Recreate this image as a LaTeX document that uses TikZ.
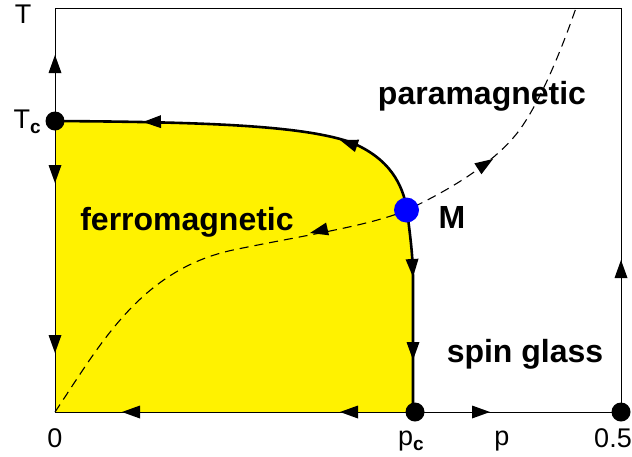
\documentclass[tikz,border=0pt]{standalone}
\usepackage{fontspec}
\setmainfont{Liberation Sans}
\begin{document}
\begin{tikzpicture}[x=1pt,y=-1pt,
  dot/.style={circle,fill=black,inner sep=0pt,minimum size=19pt},
  mdot/.style={circle,fill=blue,inner sep=0pt,minimum size=25pt},
  lab/.style={font=\fontsize{27}{30}\selectfont,inner sep=0pt,anchor=base},
  blab/.style={font=\bfseries\fontsize{32}{35}\selectfont,inner sep=0pt,anchor=base},
  flow/.style={line width=2.6pt,line join=round},
  frame/.style={line width=1pt},
  sepline/.style={line width=1.1pt,dash pattern=on 9pt off 6pt},
  arr/.pic={\fill[black] (0,0) -- (-18,6.5) -- (-18,-6.5) -- cycle;}
]
\useasboundingbox (0,0) rectangle (632,456);
% key points
\coordinate (O) at (55,412);
\coordinate (Ttop) at (55,8);
\coordinate (Rtop) at (621,8);
\coordinate (Top) at (577,5);
% ferromagnetic region
\fill[yellow] (55,121) .. controls (200,122) and (300,125) .. (350,142)
  .. controls (390,158) and (403,185) .. (407,210)
  .. controls (410,235) and (413,255) .. (413,280) -- (413,412) -- (O) -- cycle;
% frame
\draw[frame] (O) -- (Ttop) -- (Rtop) -- (621,412) -- cycle;
% phase boundary
\draw[flow] (55,121) .. controls (200,122) and (300,125) .. (350,142)
  .. controls (390,158) and (403,185) .. (407,210)
  .. controls (410,235) and (413,255) .. (413,280) -- (413,412);
% Nishimori line
\draw[sepline] (O) .. controls (100,345) and (140,270) .. (233,250)
  .. controls (300,236) and (370,226) .. (407,210)
  .. controls (450,190) and (500,160) .. (523,125)
  .. controls (545,92) and (565,40) .. (Top);
% arrowheads
\pic[rotate=90] at (55,55) {arr};
\pic[rotate=-90] at (55,183) {arr};
\pic[rotate=-90] at (55,353) {arr};
\pic[rotate=180] at (122,412) {arr};
\pic[rotate=180] at (340,412) {arr};
\pic[rotate=0] at (490,412) {arr};
\pic[rotate=90] at (621,260) {arr};
\pic[rotate=181] at (143,122) {arr};
\pic[rotate=161] at (340,140) {arr};
\pic[rotate=-87] at (413,277) {arr};
\pic[rotate=-90] at (413,360) {arr};
\pic[rotate=193] at (310,233) {arr};
\pic[rotate=33] at (493,159) {arr};
% fixed points
\node[dot] (Tc) at (55,121) {};
\node[dot] (pc) at (415,412) {};
\node[dot] (half) at (621,412) {};
\node[mdot] (M) at (406.5,210) {};
% labels
\node[lab] (lT) at (23,23) {T};
\node[lab,anchor=base east] (lTc) at (41,128) {T\raisebox{-5pt}{\bfseries\fontsize{19}{19}\selectfont c}};
\node[lab] (l0) at (55,447) {0};
\node[lab,anchor=base west] (lpc) at (398,445) {p\raisebox{-5pt}{\bfseries\fontsize{19}{19}\selectfont c}};
\node[lab] (lp) at (502,445) {p};
\node[lab] (lhalf) at (613,447) {0.5};
\node[blab] (para) at (482,104) {paramagnetic};
\node[blab] (ferro) at (187,230) {ferromagnetic};
\node[blab] (lM) at (452,228) {M};
\node[blab] (sg) at (525,362) {spin glass};
\end{tikzpicture}
\end{document}
